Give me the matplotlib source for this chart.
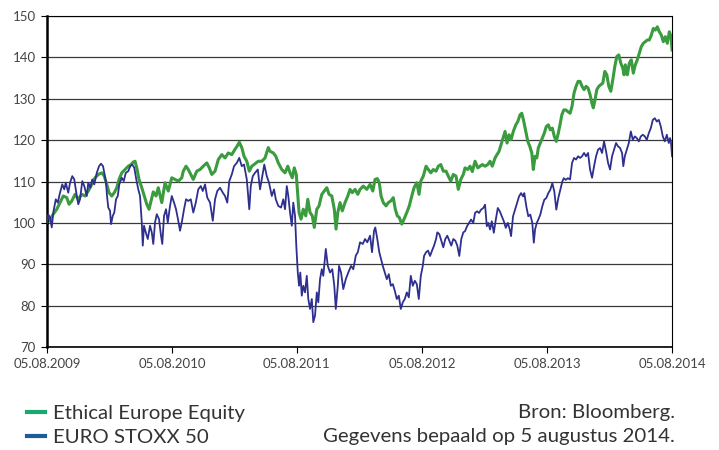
import numpy as np
import pandas as pd
import matplotlib
matplotlib.use("Agg")
import matplotlib.pyplot as plt
from matplotlib.lines import Line2D

plt.rcParams["font.family"] = ["Lato", "DejaVu Sans"]

start = pd.Timestamp("2009-08-05")
tick_years = [2009, 2010, 2011, 2012, 2013, 2014]
y_ticks = [70, 80, 90, 100, 110, 120, 130, 140, 150]

# time in years since 05.08.2009, index values (start = 100)
ethical_t = [
    0.000, 0.024, 0.050, 0.078, 0.104, 0.130, 0.158, 0.176, 0.198, 0.224, 0.250, 0.278,
    0.304, 0.330, 0.358, 0.384, 0.410, 0.438, 0.458, 0.478, 0.496, 0.518, 0.538, 0.558,
    0.576, 0.598, 0.624, 0.650, 0.672, 0.690, 0.704, 0.718, 0.736, 0.758, 0.778, 0.798,
    0.816, 0.850, 0.872, 0.890, 0.918, 0.944, 0.970, 0.998, 1.024, 1.050, 1.078, 1.090,
    1.112, 1.130, 1.150, 1.170, 1.198, 1.224, 1.250, 1.278, 1.298, 1.318, 1.344, 1.370,
    1.398, 1.424, 1.450, 1.478, 1.504, 1.522, 1.538, 1.558, 1.576, 1.598, 1.618, 1.638,
    1.656, 1.690, 1.718, 1.744, 1.770, 1.784, 1.810, 1.830, 1.850, 1.878, 1.904, 1.926,
    1.944, 1.962, 1.978, 1.994, 2.006, 2.016, 2.032, 2.050, 2.070, 2.086, 2.104, 2.122,
    2.138, 2.158, 2.176, 2.198, 2.218, 2.238, 2.256, 2.278, 2.298, 2.312, 2.326, 2.344,
    2.362, 2.384, 2.406, 2.424, 2.442, 2.464, 2.486, 2.504, 2.530, 2.558, 2.584, 2.606,
    2.624, 2.642, 2.658, 2.672, 2.690, 2.712, 2.730, 2.750, 2.770, 2.786, 2.802, 2.818,
    2.838, 2.856, 2.878, 2.898, 2.918, 2.936, 2.958, 2.976, 2.990, 3.010, 3.032, 3.050,
    3.070, 3.090, 3.112, 3.130, 3.150, 3.170, 3.192, 3.210, 3.230, 3.250, 3.272, 3.290,
    3.310, 3.330, 3.344, 3.366, 3.384, 3.402, 3.424, 3.446, 3.464, 3.482, 3.504, 3.526,
    3.544, 3.562, 3.584, 3.600, 3.616, 3.632, 3.648, 3.664, 3.680, 3.696, 3.712, 3.730,
    3.750, 3.766, 3.784, 3.798, 3.814, 3.830, 3.846, 3.862, 3.878, 3.890, 3.904, 3.918,
    3.930, 3.946, 3.962, 3.978, 3.994, 4.010, 4.026, 4.042, 4.058, 4.074, 4.090, 4.106,
    4.118, 4.134, 4.150, 4.166, 4.184, 4.200, 4.216, 4.232, 4.248, 4.264, 4.280, 4.296,
    4.312, 4.328, 4.344, 4.358, 4.370, 4.384, 4.398, 4.414, 4.430, 4.446, 4.462, 4.478,
    4.494, 4.510, 4.526, 4.542, 4.558, 4.574, 4.590, 4.606, 4.616, 4.626, 4.642, 4.658,
    4.674, 4.690, 4.706, 4.722, 4.738, 4.754, 4.770, 4.786, 4.802, 4.818, 4.834, 4.850,
    4.866, 4.882, 4.898, 4.914, 4.930, 4.946, 4.962, 4.978, 4.992, 5.000,
]
ethical = [
    100.0, 100.9, 102.1, 103.3, 104.9, 106.5, 106.1, 104.5, 105.3, 106.9, 105.7, 106.9,
    106.5, 107.7, 109.3, 110.9, 111.7, 112.1, 111.3, 109.3, 107.3, 106.5, 107.3, 108.5,
    110.5, 112.1, 112.9, 113.7, 114.1, 114.7, 114.9, 113.3, 110.5, 108.5, 106.5, 104.5,
    103.3, 107.5, 106.5, 108.5, 104.9, 109.7, 107.7, 110.9, 110.5, 110.1, 110.9, 112.5,
    113.7, 112.9, 111.7, 110.5, 112.5, 112.9, 113.7, 114.5, 113.3, 111.7, 112.5, 115.3,
    116.5, 115.7, 116.9, 116.5, 117.8, 118.6, 119.5, 118.2, 116.1, 114.9, 112.5, 113.7,
    114.1, 114.9, 114.9, 115.7, 118.2, 117.3, 116.9, 116.1, 114.5, 112.9, 112.1, 113.7,
    112.1, 110.9, 113.3, 111.7, 106.5, 102.5, 100.9, 103.3, 101.7, 105.7, 102.5, 101.7,
    98.9, 103.3, 104.1, 106.9, 107.7, 108.5, 106.9, 106.5, 103.3, 98.5, 102.5, 104.9,
    102.9, 104.9, 106.5, 108.1, 107.3, 108.1, 106.9, 108.1, 108.9, 108.1, 109.3, 107.7,
    110.5, 110.7, 109.7, 106.5, 104.9, 104.1, 104.9, 105.3, 106.1, 103.3, 101.7, 101.3,
    99.7, 100.9, 102.5, 104.1, 106.5, 108.5, 109.7, 106.9, 110.1, 111.3, 113.7, 112.9,
    112.1, 112.9, 112.5, 113.7, 114.1, 112.5, 112.5, 111.3, 110.1, 111.7, 111.3, 108.1,
    110.5, 111.7, 113.3, 112.9, 113.7, 112.4, 114.9, 113.3, 113.7, 114.1, 113.7, 114.1,
    114.9, 113.7, 115.7, 116.5, 117.3, 118.9, 120.5, 122.1, 119.3, 121.3, 120.1, 122.1,
    123.7, 124.5, 126.1, 126.5, 124.5, 122.1, 119.7, 118.5, 116.9, 112.9, 116.1, 115.7,
    118.1, 119.3, 120.5, 121.7, 123.3, 123.7, 122.5, 122.9, 120.9, 119.7, 121.7, 124.1,
    126.1, 127.3, 127.3, 126.9, 126.5, 128.2, 131.4, 133.0, 134.2, 134.2, 133.0, 132.2,
    133.0, 132.6, 131.0, 129.0, 127.8, 129.8, 132.2, 133.0, 133.4, 133.8, 136.6, 135.8,
    133.0, 131.8, 134.6, 137.8, 140.2, 140.6, 138.6, 137.4, 135.8, 138.2, 135.8, 138.6,
    139.4, 136.2, 138.2, 139.4, 141.0, 142.6, 143.4, 143.8, 144.2, 144.2, 145.4, 147.0,
    146.6, 147.4, 146.2, 145.4, 143.8, 145.0, 143.4, 146.2, 145.0, 141.8,
]

stoxx_t = [
    0.000, 0.010, 0.024, 0.038, 0.050, 0.070, 0.086, 0.104, 0.122, 0.138, 0.150, 0.170,
    0.184, 0.202, 0.218, 0.238, 0.250, 0.264, 0.282, 0.298, 0.318, 0.330, 0.346, 0.362,
    0.378, 0.398, 0.416, 0.432, 0.448, 0.458, 0.472, 0.480, 0.490, 0.504, 0.512, 0.526,
    0.538, 0.552, 0.566, 0.578, 0.598, 0.614, 0.630, 0.650, 0.666, 0.682, 0.698, 0.714,
    0.730, 0.744, 0.758, 0.766, 0.776, 0.790, 0.806, 0.824, 0.838, 0.850, 0.864, 0.878,
    0.896, 0.910, 0.922, 0.936, 0.952, 0.966, 0.984, 0.998, 1.016, 1.032, 1.050, 1.064,
    1.078, 1.096, 1.112, 1.130, 1.150, 1.170, 1.190, 1.210, 1.230, 1.246, 1.264, 1.282,
    1.304, 1.326, 1.344, 1.362, 1.384, 1.406, 1.424, 1.442, 1.458, 1.478, 1.496, 1.518,
    1.538, 1.558, 1.576, 1.598, 1.618, 1.630, 1.646, 1.664, 1.686, 1.704, 1.722, 1.738,
    1.758, 1.776, 1.798, 1.816, 1.830, 1.850, 1.872, 1.890, 1.904, 1.918, 1.930, 1.944,
    1.958, 1.970, 1.984, 1.994, 2.006, 2.016, 2.026, 2.038, 2.050, 2.064, 2.078, 2.090,
    2.104, 2.118, 2.130, 2.144, 2.158, 2.170, 2.184, 2.198, 2.210, 2.230, 2.246, 2.264,
    2.282, 2.298, 2.310, 2.326, 2.336, 2.352, 2.370, 2.390, 2.410, 2.432, 2.450, 2.470,
    2.486, 2.504, 2.526, 2.544, 2.562, 2.584, 2.600, 2.616, 2.626, 2.642, 2.658, 2.672,
    2.686, 2.702, 2.718, 2.734, 2.750, 2.766, 2.782, 2.798, 2.814, 2.830, 2.846, 2.862,
    2.878, 2.894, 2.910, 2.926, 2.942, 2.958, 2.974, 2.990, 3.006, 3.016, 3.032, 3.048,
    3.064, 3.080, 3.096, 3.112, 3.122, 3.138, 3.154, 3.170, 3.186, 3.202, 3.218, 3.234,
    3.250, 3.266, 3.282, 3.298, 3.314, 3.330, 3.344, 3.360, 3.376, 3.392, 3.410, 3.424,
    3.440, 3.456, 3.472, 3.490, 3.504, 3.518, 3.530, 3.544, 3.558, 3.574, 3.590, 3.606,
    3.622, 3.638, 3.654, 3.670, 3.686, 3.702, 3.712, 3.728, 3.744, 3.760, 3.776, 3.792,
    3.808, 3.818, 3.834, 3.850, 3.866, 3.882, 3.894, 3.904, 3.918, 3.930, 3.946, 3.962,
    3.978, 3.994, 4.010, 4.026, 4.042, 4.058, 4.074, 4.090, 4.106, 4.122, 4.134, 4.150,
    4.166, 4.184, 4.200, 4.216, 4.232, 4.248, 4.264, 4.280, 4.296, 4.312, 4.328, 4.344,
    4.360, 4.376, 4.392, 4.408, 4.424, 4.440, 4.456, 4.472, 4.488, 4.504, 4.520, 4.536,
    4.552, 4.568, 4.584, 4.600, 4.610, 4.622, 4.638, 4.654, 4.670, 4.686, 4.702, 4.718,
    4.734, 4.750, 4.766, 4.782, 4.798, 4.814, 4.830, 4.846, 4.862, 4.878, 4.894, 4.910,
    4.926, 4.942, 4.958, 4.974, 4.984, 4.992, 5.000,
]
stoxx = [
    100.0, 102.0, 101.3, 98.9, 102.5, 105.7, 104.9, 107.3, 109.3, 108.1, 109.7, 107.3,
    109.7, 111.3, 110.5, 106.5, 104.5, 105.7, 110.1, 108.9, 106.5, 109.7, 108.5, 110.5,
    109.3, 112.1, 113.7, 114.3, 113.7, 112.1, 109.7, 106.5, 103.7, 102.9, 99.7, 101.7,
    102.5, 105.7, 106.5, 109.3, 110.9, 110.1, 112.1, 112.5, 113.7, 114.1, 113.3, 110.5,
    108.1, 106.5, 100.1, 94.5, 99.3, 97.7, 96.1, 99.3, 97.7, 94.9, 100.1, 102.1,
    100.9, 97.3, 94.9, 101.7, 103.3, 100.1, 104.1, 106.5, 104.9, 103.3, 100.5, 98.1,
    100.1, 103.3, 105.7, 105.3, 105.7, 102.5, 104.9, 108.1, 108.9, 107.7, 109.3, 106.1,
    104.9, 100.5, 105.7, 107.7, 108.5, 107.3, 106.5, 104.9, 110.1, 111.7, 113.7, 114.5,
    115.7, 113.7, 114.1, 110.5, 103.3, 108.9, 111.3, 112.1, 112.9, 108.1, 111.3, 114.1,
    111.3, 109.7, 106.5, 108.1, 105.7, 104.1, 103.7, 105.7, 103.3, 108.9, 106.5, 102.5,
    99.3, 104.9, 101.7, 94.5, 88.0, 84.8, 88.0, 82.4, 84.8, 83.2, 87.2, 81.6,
    79.2, 81.6, 76.0, 77.6, 83.2, 80.8, 86.4, 88.8, 87.2, 93.7, 89.6, 88.0,
    88.8, 84.8, 79.2, 84.8, 89.6, 88.0, 84.0, 86.4, 88.0, 89.6, 88.8, 92.1,
    92.9, 95.3, 94.9, 96.1, 95.3, 96.9, 92.9, 98.1, 98.9, 96.1, 92.9, 91.2,
    89.6, 88.0, 86.4, 87.6, 84.8, 85.2, 83.6, 81.6, 82.4, 79.2, 80.8, 81.6,
    83.2, 82.0, 87.2, 84.8, 86.0, 85.2, 81.6, 87.2, 89.6, 92.0, 92.9, 93.3,
    92.0, 93.3, 94.5, 96.1, 97.7, 97.3, 95.7, 94.1, 96.1, 96.9, 95.7, 94.5,
    96.1, 95.7, 94.5, 92.0, 96.1, 97.7, 98.0, 99.2, 100.0, 100.8, 100.0, 102.4,
    102.8, 102.4, 103.2, 103.6, 104.4, 99.2, 100.0, 98.4, 100.4, 97.6, 100.8, 103.6,
    102.8, 101.6, 100.4, 98.8, 100.0, 98.4, 96.8, 101.6, 103.2, 104.8, 106.4, 107.2,
    106.4, 107.2, 104.0, 101.6, 102.0, 100.0, 95.2, 98.4, 100.0, 100.8, 102.0, 104.0,
    105.6, 106.0, 107.2, 108.0, 109.6, 107.6, 103.2, 106.0, 108.0, 110.0, 110.8, 110.4,
    110.8, 110.5, 114.5, 115.7, 115.3, 116.1, 115.7, 116.1, 116.9, 116.1, 116.9, 112.9,
    110.9, 113.7, 116.1, 117.7, 118.1, 116.9, 119.7, 117.3, 114.5, 112.9, 116.1, 117.7,
    119.3, 118.5, 118.1, 116.9, 113.7, 116.1, 117.7, 119.3, 122.1, 120.1, 120.9, 120.5,
    119.7, 120.9, 121.3, 120.9, 120.1, 121.7, 122.9, 124.9, 125.3, 124.5, 124.9, 123.3,
    120.9, 119.7, 121.3, 119.3, 120.5, 119.3, 116.1,
]


def to_dates(t):
    return start + pd.to_timedelta(np.asarray(t) * 365.25, unit="D")


fig = plt.figure(figsize=(7.19, 4.5), dpi=100)
ax = fig.add_axes([0.0654, 0.2289, 0.8692, 0.7355])

ax.plot(to_dates(stoxx_t), stoxx, color="#2e2f8f", lw=1.3, zorder=3)
ax.plot(to_dates(ethical_t), ethical, color="#3a9b3f", lw=2.2, zorder=2)

ticks = [pd.Timestamp(f"{y}-08-05") for y in tick_years]
ax.set_xlim(ticks[0], ticks[-1])
ax.set_xticks(ticks)
ax.set_xticklabels([t.strftime("%d.%m.%Y") for t in ticks])
ax.set_ylim(70, 150)
ax.set_yticks(y_ticks)

ax.yaxis.grid(True, color="#3a3a3a", lw=0.9)
ax.set_axisbelow(True)
ax.spines["left"].set_linewidth(1.8)
ax.spines["bottom"].set_linewidth(1.2)
ax.spines["top"].set_linewidth(0.8)
ax.spines["right"].set_linewidth(0.8)
ax.tick_params(direction="out", length=4, width=0.8, labelsize=9.5,
               labelcolor="#444444", pad=4)

handles = [Line2D([], [], color="#1aa86e", lw=3),
           Line2D([], [], color="#1f5c9c", lw=3)]
fig.legend(handles, ["Ethical Europe Equity", "EURO STOXX 50"],
           loc="upper left", bbox_to_anchor=(0.037, 0.101), frameon=False,
           fontsize=14.7, handlelength=0.88, handletextpad=0.4,
           labelspacing=0.35, borderaxespad=0, borderpad=0,
           labelcolor="#333333")

fig.text(0.939, 0.0844, "Bron: Bloomberg.", ha="right", va="center",
         fontsize=14.7, color="#333333")
fig.text(0.939, 0.0289, "Gegevens bepaald op 5 augustus 2014.", ha="right",
         va="center", fontsize=14.7, color="#333333")

fig.savefig("out.png", dpi=100)
